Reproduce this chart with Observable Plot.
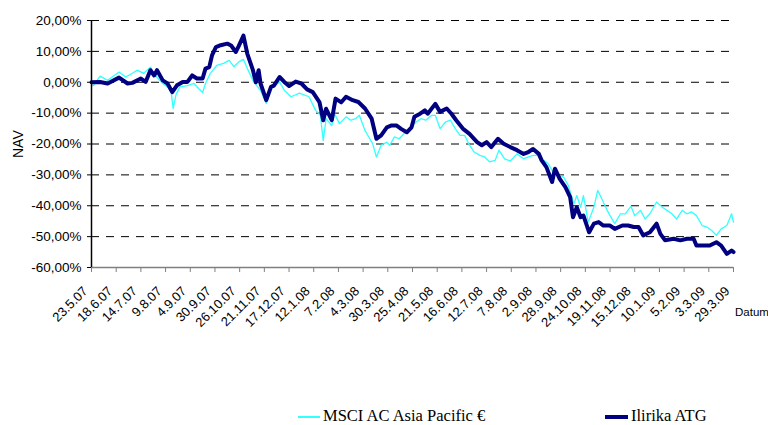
<!DOCTYPE html>
<html>
<head>
<meta charset="utf-8">
<script src="https://cdn.jsdelivr.net/npm/d3@7"></script>
<script src="https://cdn.jsdelivr.net/npm/@observablehq/plot@0.6"></script>
<style>
  html, body { margin: 0; padding: 0; background: #fff; }
  #wrap { position: relative; width: 768px; height: 425px; overflow: hidden; }
  #legend { position: relative; width: 768px; height: 30px; font-family: "Liberation Serif", "Times New Roman", serif; font-size: 16.5px; line-height: 16px; color: #000; }
  .sw { position: absolute; height: 0; }
  .lab { position: absolute; white-space: nowrap; }
</style>
</head>
<body>
<div id="wrap">
  <div id="chart"></div>
  <div id="legend"></div>
</div>
<script>
// ---- tick labels ----
const tickLabels = ["23.5.07","18.6.07","14.7.07","9.8.07","4.9.07","30.9.07","26.10.07","21.11.07","17.12.07","12.1.08","7.2.08","4.3.08","30.3.08","25.4.08","21.5.08","16.6.08","12.7.08","7.8.08","2.9.08","28.9.08","24.10.08","19.11.08","15.12.08","10.1.09","5.2.09","3.3.09","29.3.09"];
const yTicks = [20, 10, 0, -10, -20, -30, -40, -50, -60];
const gridValues = [20, 10, 0, -10, -20, -30, -40, -50];
const seriesNames = ["MSCI AC Asia Pacific €", "Ilirika ATG"];
const seriesColors = ["#33ffff", "#000080"];

// ---- Ilirika ATG (NAV change, %) ----
const atgDates = [
  "2007-05-23","2007-06-01","2007-06-09","2007-06-21","2007-06-30",
  "2007-07-05","2007-07-14","2007-07-19","2007-07-24","2007-07-28","2007-07-31",
  "2007-08-06","2007-08-11","2007-08-16","2007-08-21","2007-08-27",
  "2007-09-01","2007-09-06","2007-09-11","2007-09-17","2007-09-20","2007-09-24","2007-09-27",
  "2007-10-01","2007-10-06","2007-10-13","2007-10-17","2007-10-22","2007-10-25","2007-10-30",
  "2007-11-03","2007-11-09","2007-11-12","2007-11-15","2007-11-17","2007-11-23","2007-11-28",
  "2007-12-01","2007-12-07","2007-12-12","2007-12-17","2007-12-24","2007-12-30",
  "2008-01-05","2008-01-11","2008-01-18","2008-01-22","2008-01-25","2008-01-31",
  "2008-02-04","2008-02-10","2008-02-15","2008-02-22","2008-02-28",
  "2008-03-06","2008-03-13","2008-03-18","2008-03-23","2008-03-29",
  "2008-04-03","2008-04-08","2008-04-13","2008-04-19","2008-04-24","2008-04-27",
  "2008-05-03","2008-05-08","2008-05-11","2008-05-19","2008-05-24","2008-05-31",
  "2008-06-05","2008-06-10","2008-06-17","2008-06-24",
  "2008-07-02","2008-07-07","2008-07-12","2008-07-17","2008-07-24","2008-07-30",
  "2008-08-06","2008-08-13","2008-08-20","2008-08-25","2008-08-30",
  "2008-09-05","2008-09-08","2008-09-13","2008-09-19","2008-09-22","2008-09-27",
  "2008-10-03","2008-10-08","2008-10-11","2008-10-15","2008-10-19","2008-10-22","2008-10-28",
  "2008-11-02","2008-11-07","2008-11-12","2008-11-19","2008-11-24",
  "2008-12-02","2008-12-08","2008-12-14","2008-12-19","2008-12-24","2008-12-31",
  "2009-01-07","2009-01-11","2009-01-16","2009-01-25",
  "2009-02-01","2009-02-08","2009-02-15","2009-02-18","2009-02-26",
  "2009-03-04","2009-03-11","2009-03-16","2009-03-22","2009-03-27","2009-03-29"
];
const atgValues = [
  0.0, 0.1, -0.4, 1.5, -0.4,
  -0.2, 1.2, 0.1, 3.9, 2.2, 3.9,
  0.6, -0.4, -3.2, -1.0, 0.1,
  0.1, 2.2, 1.2, 1.2, 4.4, 4.9, 8.8,
  11.4, 12.0, 12.5, 11.9, 9.8, 11.7, 15.1,
  9.3, 3.9, 0.0, 3.9, -0.4, -5.8, -1.5,
  -1.1, 1.7, 0.1, -1.2, 0.2, -0.4,
  -2.3, -3.2, -6.4, -12.3, -8.6, -12.3,
  -5.3, -6.5, -4.7, -5.8, -6.4,
  -8.5, -11.8, -18.3, -17.2, -14.6,
  -14.0, -14.0, -15.1, -16.2, -14.6, -11.2,
  -10.2, -9.1, -10.2, -7.0, -9.6, -8.5,
  -10.2, -12.3, -15.0, -16.7,
  -19.4, -20.4, -19.4, -21.0, -18.3, -19.9,
  -21.0, -22.0, -23.2, -22.6, -21.6,
  -23.2, -25.3, -27.5, -32.3, -28.0, -31.3,
  -34.0, -37.2, -43.7, -40.5, -43.7, -43.2, -48.6,
  -45.8, -45.3, -46.4, -46.4, -47.5,
  -46.4, -46.4, -46.9, -46.9, -49.6, -48.6,
  -45.8, -49.1, -51.2, -50.7,
  -51.2, -50.7, -50.7, -52.9, -52.9,
  -52.9, -51.8, -52.9, -55.6, -54.5, -55.0
];

// ---- MSCI AC Asia Pacific € (change, %) ----
const msciDates = [
  "2007-05-23","2007-05-25","2007-06-01","2007-06-09","2007-06-21","2007-06-28",
  "2007-07-05","2007-07-10","2007-07-17","2007-07-24","2007-07-29",
  "2007-08-06","2007-08-11","2007-08-14","2007-08-17","2007-08-20","2007-08-24",
  "2007-09-01","2007-09-08","2007-09-13","2007-09-17","2007-09-20","2007-09-25",
  "2007-10-02","2007-10-09","2007-10-15","2007-10-20","2007-10-25","2007-10-30",
  "2007-11-03","2007-11-09","2007-11-14","2007-11-17","2007-11-23","2007-11-28",
  "2007-12-07","2007-12-12","2007-12-19","2007-12-28",
  "2008-01-07","2008-01-14","2008-01-19","2008-01-22","2008-01-25","2008-01-31",
  "2008-02-03","2008-02-08","2008-02-15","2008-02-20","2008-02-25","2008-02-29",
  "2008-03-06","2008-03-11","2008-03-14","2008-03-18","2008-03-23","2008-03-29",
  "2008-04-01","2008-04-06","2008-04-11","2008-04-16","2008-04-22","2008-04-29",
  "2008-05-04","2008-05-09","2008-05-15","2008-05-19","2008-05-24","2008-05-30",
  "2008-06-04","2008-06-09","2008-06-14","2008-06-19","2008-06-24","2008-06-29",
  "2008-07-05","2008-07-10","2008-07-15","2008-07-21","2008-07-25","2008-07-31",
  "2008-08-06","2008-08-13","2008-08-20","2008-08-25","2008-08-30",
  "2008-09-05","2008-09-10","2008-09-15","2008-09-20",
  "2008-10-01","2008-10-06","2008-10-12","2008-10-15","2008-10-19","2008-10-22","2008-10-27",
  "2008-11-02","2008-11-06","2008-11-11","2008-11-16","2008-11-19","2008-11-24","2008-11-30",
  "2008-12-05","2008-12-11","2008-12-15","2008-12-21","2008-12-26","2008-12-31",
  "2009-01-07","2009-01-13","2009-01-18","2009-01-23","2009-01-28",
  "2009-02-03","2009-02-08","2009-02-13","2009-02-18","2009-02-24",
  "2009-03-01","2009-03-06","2009-03-11","2009-03-16","2009-03-22","2009-03-27","2009-03-29"
];
const msciValues = [
  -1.0, -1.1, 2.0, 0.6, 3.3, 1.7,
  2.9, 3.9, 2.9, 4.9, 2.2,
  -0.4, -1.5, -1.1, -8.5, -4.0, -1.5,
  -1.1, -0.4, -2.1, -3.3, -0.4, 2.8,
  5.5, 6.1, 7.1, 5.0, 6.6, 7.4,
  4.5, 0.6, -1.5, -2.6, -6.9, -2.1,
  0.1, -2.6, -4.7, -3.5,
  -4.7, -9.1, -10.7, -18.9, -11.8, -14.0,
  -10.2, -13.4, -11.2, -12.3, -11.8, -10.7,
  -15.6, -18.3, -19.9, -24.2, -20.4, -19.4,
  -20.4, -17.7, -18.3, -16.7, -15.0, -12.8,
  -11.8, -12.3, -10.7, -10.7, -15.0, -12.8,
  -12.3, -15.0, -17.2, -17.2, -20.4, -22.6,
  -23.7, -24.2, -25.8, -25.3, -22.0, -24.8,
  -25.5, -23.2, -24.8, -24.2, -23.7,
  -23.7, -25.3, -26.4, -29.1,
  -30.7, -33.4, -39.4, -36.7, -40.5, -36.7, -45.3,
  -40.5, -35.0, -38.2, -41.5, -43.2, -45.8, -42.6,
  -42.6, -40.2, -43.2, -41.5, -44.3, -42.6,
  -38.8, -40.5, -41.5, -42.6, -44.3,
  -41.5, -42.6, -42.0, -43.2, -46.4,
  -46.9, -48.0, -49.6, -47.5, -46.4, -42.6, -45.3
];

const parseISO = d3.timeParse("%Y-%m-%d");
const parseLabel = d3.timeParse("%d.%m.%y");
const fmtDate = d3.timeFormat("%-d.%-m.%y");
const fmtPct = v => v.toFixed(2).replace(".", ",") + "%";

const atg = atgDates.map((d, i) => ({date: parseISO(d), value: atgValues[i]}));
const msci = msciDates.map((d, i) => ({date: parseISO(d), value: msciValues[i]}));
const tickDates = tickLabels.map(parseLabel);
const xDomain = [tickDates[0], tickDates[tickDates.length - 1]];

const chart = Plot.plot({
  width: 768,
  height: 395,
  marginLeft: 91,
  marginRight: 35,
  marginTop: 20,
  marginBottom: 128,
  style: {fontFamily: '"Liberation Sans", Arial, sans-serif', fontSize: "13.5px", background: "#fff", color: "#000"},
  x: {type: "time", domain: xDomain},
  y: {domain: [-60, 20]},
  marks: [
    Plot.ruleY(gridValues, {stroke: "#000", strokeDasharray: "8,7", strokeWidth: 1}),
    Plot.line(msci, {x: "date", y: "value", stroke: seriesColors[0], strokeWidth: 1.3}),
    Plot.line(atg, {x: "date", y: "value", stroke: seriesColors[1], strokeWidth: 4, strokeLinejoin: "round"}),
    Plot.ruleY([-60], {stroke: "#808080", strokeWidth: 1.5}),
    Plot.ruleX([xDomain[0]], {stroke: "#000", strokeWidth: 1.5}),
    Plot.axisY({ticks: yTicks, tickFormat: fmtPct, tickSize: 4, tickPadding: 6, label: null}),
    Plot.axisX({ticks: tickDates, tickFormat: () => "", tickSize: 5, stroke: "#808080", label: null}),
    Plot.text(tickDates, {x: d => d, text: fmtDate, frameAnchor: "bottom", lineAnchor: "middle", rotate: -45, textAnchor: "end", dx: -6, dy: 21.5, fontSize: 13}),
    Plot.text(["NAV"], {text: d => d, frameAnchor: "left", lineAnchor: "middle", dx: -73, dy: 14, rotate: -90, fontSize: 14}),
    Plot.text(["Datum"], {text: d => d, frameAnchor: "bottom-right", lineAnchor: "middle", textAnchor: "start", dx: 1.5, dy: 45, fontSize: 11.5})
  ]
});
document.getElementById("chart").appendChild(chart);

// ---- legend ----
const legend = document.getElementById("legend");
const legendItems = [
  {swLeft: 298, swWidth: 22, swThick: 2, textLeft: 323},
  {swLeft: 605, swWidth: 23, swThick: 4, textLeft: 631}
];
legendItems.forEach((it, i) => {
  const sw = document.createElement("div");
  sw.className = "sw";
  sw.style.left = it.swLeft + "px";
  sw.style.width = it.swWidth + "px";
  sw.style.top = (22 - it.swThick / 2) + "px";
  sw.style.borderTop = it.swThick + "px solid " + seriesColors[i];
  legend.appendChild(sw);
  const lab = document.createElement("div");
  lab.className = "lab";
  lab.style.left = it.textLeft + "px";
  lab.style.top = "13px";
  lab.textContent = seriesNames[i];
  legend.appendChild(lab);
});
</script>
</body>
</html>
